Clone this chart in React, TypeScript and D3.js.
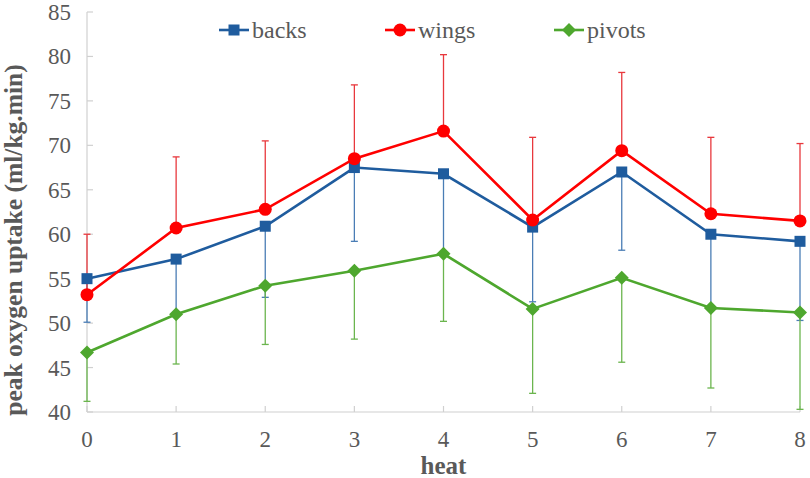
import React from "react";
import * as d3 from "d3";

const heats = [0, 1, 2, 3, 4, 5, 6, 7, 8];
const yTicks = [40, 45, 50, 55, 60, 65, 70, 75, 80, 85];

const backs = [55.0, 57.2, 60.9, 67.5, 66.8, 60.8, 67.0, 60.0, 59.2];
const backsLow = [50.1, 51.2, 52.9, 59.2, 58.0, 52.4, 58.2, 51.8, 50.3];

const wings = [53.2, 60.7, 62.8, 68.5, 71.6, 61.6, 69.4, 62.3, 61.5];
const wingsHigh = [60.0, 68.7, 70.5, 76.8, 80.2, 70.9, 78.2, 70.9, 70.2];

const pivots = [46.7, 51.0, 54.2, 55.9, 57.8, 51.6, 55.1, 51.7, 51.2];
const pivotsLow = [41.2, 45.4, 47.6, 48.2, 50.2, 42.1, 45.6, 42.7, 40.3];

const seriesNames = ["backs", "wings", "pivots"];

const W = 810;
const H = 478;
const left = 87;
const right = 800;
const top = 12;
const bottom = 412;

export default function App() {
  const x = d3.scaleLinear().domain([0, 8]).range([left, right]);
  const y = d3.scaleLinear().domain([40, 85]).range([bottom, top]);
  const line = d3
    .line<number>()
    .x((_, i) => x(heats[i]))
    .y((d) => y(d));

  const font = "'Liberation Serif', 'Times New Roman', serif";
  const tickColor = "#595959";
  const axisColor = "#d0d0d0";

  const series = [
    { name: seriesNames[0], vals: backs, err: backsLow, color: "#1F5C9E", errColor: "#4A7DB5", shape: "square" },
    { name: seriesNames[1], vals: wings, err: wingsHigh, color: "#FF0000", errColor: "#E8383D", shape: "circle" },
    { name: seriesNames[2], vals: pivots, err: pivotsLow, color: "#4EA72E", errColor: "#6BB54E", shape: "diamond" },
  ];

  const marker = (shape: string, cx: number, cy: number, color: string, key: string) => {
    if (shape === "square") return <rect key={key} x={cx - 5.5} y={cy - 5.5} width={11} height={11} fill={color} />;
    if (shape === "circle") return <circle key={key} cx={cx} cy={cy} r={6.5} fill={color} />;
    return <path key={key} d={`M${cx},${cy - 7}L${cx + 7},${cy}L${cx},${cy + 7}L${cx - 7},${cy}Z`} fill={color} />;
  };

  const legendX = [219, 385, 554];

  return (
    <svg width={W} height={H} style={{ position: "absolute", left: 0, top: 0, background: "#fff" }}>
      {/* axes */}
      <line x1={left} x2={left} y1={top} y2={bottom} stroke={axisColor} strokeWidth={1.2} />
      <line x1={left} x2={right} y1={bottom} y2={bottom} stroke={axisColor} strokeWidth={1.2} />
      {yTicks.map((t) => (
        <g key={"y" + t}>
          <line x1={left} x2={left + 6} y1={y(t)} y2={y(t)} stroke={axisColor} strokeWidth={1.2} />
          <text x={71} y={y(t)} dy="0.35em" textAnchor="end" fontFamily={font} fontSize={23} fill={tickColor}>
            {t}
          </text>
        </g>
      ))}
      {heats.map((h) => (
        <g key={"x" + h}>
          <line x1={x(h)} x2={x(h)} y1={bottom} y2={bottom - 6} stroke={axisColor} strokeWidth={1.2} />
          <text x={x(h)} y={447} textAnchor="middle" fontFamily={font} fontSize={23} fill={tickColor}>
            {h}
          </text>
        </g>
      ))}
      <text x={x(4)} y={474} textAnchor="middle" fontFamily={font} fontSize={25} fontWeight="bold" fill={tickColor}>
        heat
      </text>
      <text
        transform={`translate(22,240) rotate(-90)`}
        textAnchor="middle"
        fontFamily={font}
        fontSize={25.5}
        fontWeight="bold"
        fill={tickColor}
      >
        peak oxygen uptake (ml/kg.min)
      </text>

      {/* error bars */}
      {series.map((s) =>
        s.vals.map((v, i) => (
          <g key={s.name + "e" + i}>
            <line x1={x(heats[i])} x2={x(heats[i])} y1={y(v)} y2={y(s.err[i])} stroke={s.errColor} strokeWidth={1.3} />
            <line x1={x(heats[i]) - 3.5} x2={x(heats[i]) + 3.5} y1={y(s.err[i])} y2={y(s.err[i])} stroke={s.errColor} strokeWidth={1.3} />
          </g>
        ))
      )}

      {/* lines and markers */}
      {series.map((s) => (
        <g key={s.name}>
          <path d={line(s.vals) || ""} fill="none" stroke={s.color} strokeWidth={2.6} />
          {s.vals.map((v, i) => marker(s.shape, x(heats[i]), y(v), s.color, s.name + i))}
        </g>
      ))}

      {/* legend */}
      {series.map((s, i) => (
        <g key={"lg" + s.name}>
          <line x1={legendX[i]} x2={legendX[i] + 30} y1={30} y2={30} stroke={s.color} strokeWidth={2.6} />
          {marker(s.shape, legendX[i] + 15, 30, s.color, "lm" + s.name)}
          <text x={legendX[i] + 33} y={30} dy="0.32em" fontFamily={font} fontSize={24} fill={tickColor}>
            {s.name}
          </text>
        </g>
      ))}
    </svg>
  );
}
